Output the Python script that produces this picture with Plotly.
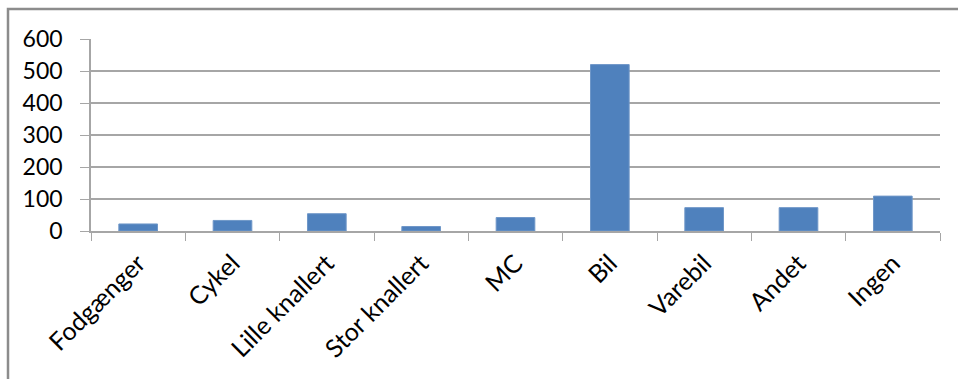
import plotly.graph_objects as go

# Antal efter transportmiddel
categories = ["Fodgænger", "Cykel", "Lille knallert", "Stor knallert", "MC",
              "Bil", "Varebil", "Andet", "Ingen"]
values = [22, 33, 54, 14, 42, 520, 73, 73, 109]
y_ticks = [0, 100, 200, 300, 400, 500, 600]

W, H = 958, 379
ML, MR, MT, MB = 91, 18, 39, 148
pw, ph = W - ML - MR, H - MT - MB

family = "Lato, 'Open Sans', sans-serif"
xfont = dict(family=family, size=25, color="#000000")
yfont = dict(family=family, size=23, color="#000000")
grid = "#a6a6a6"

fig = go.Figure(go.Bar(
    x=categories, y=values,
    marker=dict(color="#4f81bd", line=dict(color="#6f97c8", width=1)),
))

# outer chart frame (runs past right and bottom edges)
fx0 = (8 - ML) / pw
fy1 = 1 + (MT - 9) / ph
fig.add_shape(type="rect", xref="paper", yref="paper",
              x0=fx0, x1=1 + (MR + 10) / pw, y0=-(MB + 10) / ph, y1=fy1,
              line=dict(color="#8c8c8c", width=2.5), layer="below")

fig.update_layout(
    width=W, height=H,
    margin=dict(l=ML, r=MR, t=MT, b=MB),
    paper_bgcolor="white", plot_bgcolor="white",
    font=xfont, showlegend=False, bargap=0.59,
    xaxis=dict(type="category", tickson="boundaries", ticks="outside",
               ticklen=8, tickcolor=grid, showline=True, linecolor=grid,
               linewidth=1.5, tickangle=-45, showgrid=False,
               tickfont=xfont, ticklabelstandoff=6),
    yaxis=dict(range=[0, 600], tickvals=y_ticks, ticks="outside",
               ticklen=9, tickcolor=grid, showline=True, linecolor=grid,
               linewidth=1.5, gridcolor=grid, gridwidth=1.5,
               zeroline=False, tickfont=yfont, ticklabelstandoff=13),
)

fig.write_html("out.html")
